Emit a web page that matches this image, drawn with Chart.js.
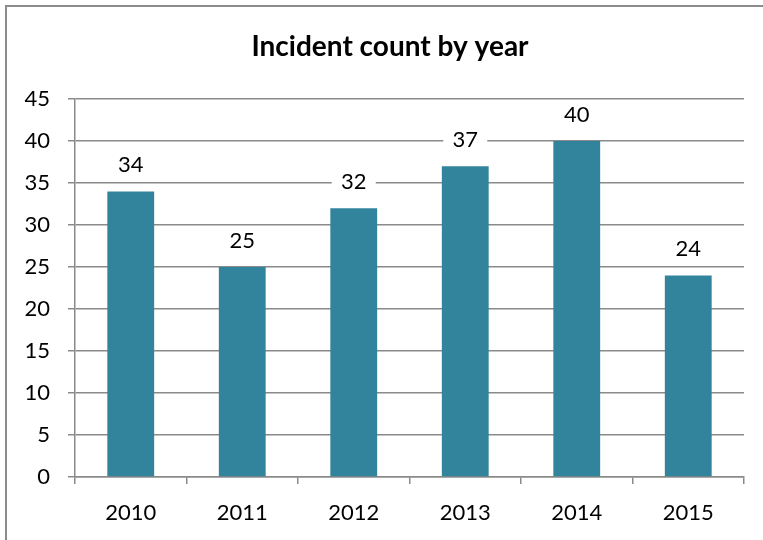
<!DOCTYPE html>
<html>
<head>
<meta charset="utf-8">
<script src="https://cdn.jsdelivr.net/npm/chart.js@4/dist/chart.umd.min.js"></script>
<style>
  html, body { margin: 0; padding: 0; background: #fff; }
  #wrap { width: 763px; height: 540px; }
</style>
</head>
<body>
<div id="wrap"><canvas id="myChart" width="763" height="540"></canvas></div>
<script>
//chart data
const years = ["2010", "2011", "2012", "2013", "2014", "2015"];
const incidents = [34, 25, 32, 37, 40, 24];
const chartTitle = "Incident count by year";

const barColor = "#31849B";
const gridColor = "#8a8a8a";
const fontFamily = "Lato, 'Open Sans', sans-serif";

//outer frame like the excel chart border, plus the title
//(excel centres the title a bit right of the plot, so it is drawn here)
const framePlugin = {
    id: "frame",
    beforeDraw: (chart) => {
        const ctx = chart.ctx;
        ctx.save();
        ctx.fillStyle = "#fff";
        ctx.fillRect(0, 0, chart.width, chart.height);
        ctx.strokeStyle = "#8c8c8c";
        ctx.lineWidth = 2;
        ctx.beginPath();
        ctx.moveTo(6, chart.height + 2);
        ctx.lineTo(6, 6);
        ctx.lineTo(chart.width + 2, 6);
        ctx.stroke();

        ctx.fillStyle = "#000";
        ctx.font = "bold 28px " + fontFamily;
        ctx.textAlign = "center";
        ctx.textBaseline = "middle";
        ctx.fillText(chartTitle, 390, 47);
        ctx.restore();
    }
};

//value labels on white boxes above each bar
const valueLabels = {
    id: "valueLabels",
    afterDatasetsDraw: (chart) => {
        const ctx = chart.ctx;
        const meta = chart.getDatasetMeta(0);
        ctx.save();
        ctx.font = "22px " + fontFamily;
        ctx.textAlign = "center";
        ctx.textBaseline = "middle";
        meta.data.forEach((bar, i) => {
            const y = bar.y - 26;
            ctx.fillStyle = "#fff";
            ctx.fillRect(bar.x - 22, y - 14, 44, 27);
            ctx.fillStyle = "#000";
            ctx.fillText(String(incidents[i]), bar.x, y);
        });
        ctx.restore();
    }
};

const ctx = document.getElementById("myChart");
const myChart = new Chart(ctx, {
    type: "bar",
    data: {
        labels: years,
        datasets: [{
            label: "Incidents",
            data: incidents,
            backgroundColor: barColor,
            borderWidth: 0,
            categoryPercentage: 1,
            barPercentage: 0.42
        }]
    },
    options: {
        responsive: false,
        animation: false,
        layout: { padding: { left: 0, right: 19, top: 99, bottom: 0 } },
        plugins: {
            legend: { display: false },
            tooltip: { enabled: false },
            title: { display: false }
        },
        scales: {
            x: {
                grid: {
                    offset: true,
                    drawOnChartArea: false,
                    drawTicks: true,
                    tickLength: 7,
                    color: gridColor,
                    lineWidth: 1.5
                },
                border: { color: gridColor, width: 1.5 },
                ticks: {
                    color: "#000",
                    font: { family: fontFamily, size: 22 },
                    padding: 16
                },
                afterFit: (scale) => { scale.height = 63; }
            },
            y: {
                min: 0,
                max: 45,
                grid: {
                    color: gridColor,
                    lineWidth: 1.5,
                    tickLength: 7
                },
                border: { color: gridColor, width: 1.5 },
                ticks: {
                    stepSize: 5,
                    color: "#000",
                    font: { family: fontFamily, size: 22 },
                    padding: 18
                },
                afterFit: (scale) => { scale.width = 75; }
            }
        }
    },
    plugins: [framePlugin, valueLabels]
});
</script>
</body>
</html>
